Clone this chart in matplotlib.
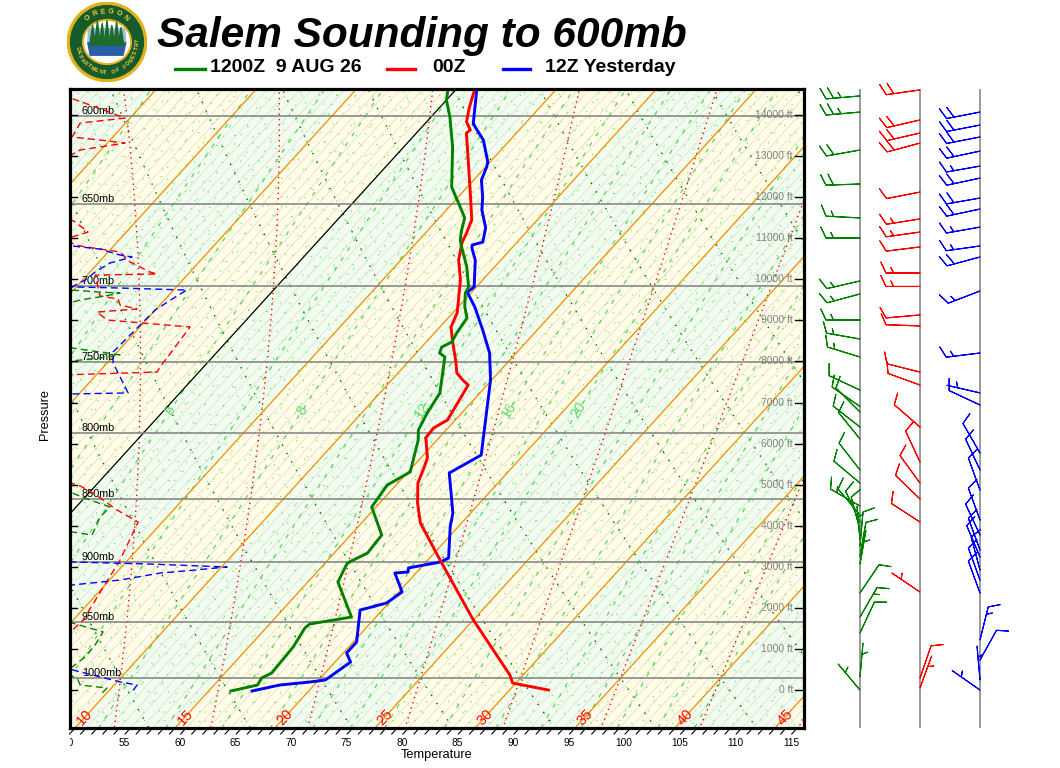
import numpy as np
import matplotlib
matplotlib.use("Agg")
import matplotlib.pyplot as plt
from matplotlib.patches import Circle, Polygon, Ellipse
from matplotlib.lines import Line2D
from matplotlib.collections import LineCollection
from matplotlib.ticker import NullLocator
from matplotlib.transforms import Bbox

plt.rcParams['font.family'] = ['Liberation Sans', 'DejaVu Sans']

# ---------------------------------------------------------------- data
TITLE = "Salem Sounding to 600mb"
SERIES_LABELS = ["1200Z  9 AUG 26", "00Z", "12Z Yesterday"]
SERIES_COLORS = ["#008000", "#FF0000", "#0000FF"]

# temperature profiles: pressure (hPa) and temperature (deg F)
z12_p = [1011.9, 1006.4, 1000.0, 995.5, 972.2, 955.6, 952.1, 946.1, 916.4, 900.7,
         892.6, 878.1, 856.0, 839.1, 829.2, 805.4, 798.2, 785.9, 771.7, 762.7,
         746.9, 744.2, 740.2, 736.8, 730.8, 720.9, 713.7, 704.7, 700.8, 688.2,
         675.8, 671.5, 665.4, 658.2, 651.7, 640.0, 634.2, 617.1, 600.5, 591.3, 585.9]
z12_t = [61.0, 62.9, 62.7, 63.2, 63.0, 62.5, 62.6, 65.8, 61.7, 61.0,
         62.0, 61.8, 58.6, 58.2, 59.2, 57.3, 56.5, 55.9, 55.4, 54.5,
         52.9, 52.1, 51.8, 52.3, 52.0, 51.7, 50.6, 49.5, 49.3, 47.5,
         45.4, 44.7, 44.0, 43.3, 42.0, 39.6, 38.8, 36.4, 33.7, 32.0, 31.3]

z00_p = [1011.0, 1004.6, 997.3, 948.6, 898.3, 868.6, 852.9, 837.6, 827.7, 818.7,
         805.4, 804.0, 796.7, 790.9, 766.2, 762.7, 757.9, 750.3, 735.5, 726.8,
         717.6, 696.4, 683.9, 673.4, 667.3, 659.4, 641.7, 609.3, 607.6, 603.2,
         595.6, 585.9]
z00_t = [89.5, 85.7, 84.8, 77.0, 69.1, 64.3, 62.4, 60.8, 60.2, 59.6,
         58.0, 57.8, 57.7, 58.3, 57.3, 56.4, 55.3, 54.3, 52.2, 51.0,
         50.4, 48.0, 46.2, 45.1, 44.7, 44.1, 41.5, 36.5, 36.6, 35.6,
         34.7, 33.7]

y12_p = [1011.9, 1006.4, 1003.6, 1001.8, 985.6, 977.5, 967.8, 940.1, 934.1, 924.8,
         909.0, 908.1, 904.8, 899.9, 896.6, 871.7, 860.7, 830.0, 816.5, 762.7,
         744.2, 728.8, 713.7, 704.1, 700.8, 683.9, 676.4, 674.6, 672.8, 664.2,
         653.5, 645.8, 635.9, 628.4, 625.6, 613.2, 606.0, 603.8, 585.9]
y12_t = [62.9, 64.9, 67.4, 68.6, 69.4, 68.3, 68.3, 66.0, 67.8, 68.3,
         66.1, 67.2, 66.9, 69.3, 69.7, 67.3, 66.4, 62.8, 64.2, 58.9,
         56.6, 54.1, 51.5, 49.6, 49.8, 47.7, 46.4, 46.2, 46.9, 46.0,
         44.2, 43.2, 41.7, 41.1, 40.8, 38.6, 36.8, 36.3, 33.9]

# winds: pressure (hPa), direction (deg from), speed (kt)
z12_wp = [589.1, 597.8, 618.8, 638.2, 658.2, 670.3, 697.0, 705.3, 722.2, 734.8,
          746.9, 769.7, 781.3, 785.2, 796.0, 804.7, 827.7, 837.6, 855.3, 862.3,
          867.8, 874.1, 882.1, 886.9, 895.0, 901.6, 925.6, 946.1, 959.9, 999.1, 1011.0]
z12_wd = [265, 265, 260, 268, 273, 270, 257, 255, 270, 280,
          287, 295, 305, 315, 308, 321, 322, 310, 300, 320,
          335, 345, 355, 5, 10, 10, 34, 30, 25, 5, 320]
z12_ws = [25, 25, 20, 20, 15, 15, 15, 15, 15, 15,
          15, 10, 10, 10, 10, 10, 10, 10, 15, 10,
          10, 10, 5, 10, 10, 5, 10, 15, 10, 5, 5]

z00_wp = [585.9, 602.1, 609.3, 614.9, 642.9, 658.8, 666.7, 675.8, 692.0, 700.5,
          718.9, 726.1, 757.2, 766.2, 796.0, 821.7, 837.6, 849.8, 867.8, 924.8,
          1000.0, 1009.1]
z00_wd = [262, 257, 257, 255, 259, 261, 262, 263, 270, 270,
          265, 272, 284, 290, 311, 335, 324, 314, 303, 304,
          19, 20]
z00_ws = [20, 20, 20, 20, 10, 15, 15, 10, 15, 15,
          10, 10, 10, 10, 10, 10, 10, 10, 10, 5,
          10, 5]

y12_wp = [597.8, 604.9, 611.5, 619.4, 627.9, 634.8, 646.4, 652.9, 663.7, 675.2,
          682.0, 703.4, 744.2, 771.7, 780.2, 815.0, 827.7, 842.9, 866.2, 878.1,
          890.2, 895.8, 906.5, 914.8, 925.6, 966.0, 983.8, 1001.8, 1011.0]
y12_wd = [259, 259, 259, 258, 260, 258, 260, 258, 260, 262,
          255, 249, 263, 283, 295, 330, 335, 340, 340, 335,
          340, 337, 345, 340, 340, 14, 29, 355, 305]
y12_ws = [20, 20, 20, 20, 15, 20, 20, 20, 15, 15,
          20, 15, 15, 5, 10, 10, 10, 10, 10, 10,
          10, 10, 10, 10, 10, 15, 10, 5, 5]

# dashed profiles near the left edge: pressure (hPa), skewed temperature coordinate
z00_dash_p = [588.6, 594.0, 601.1, 603.8, 611.5, 613.2, 614.9, 618.8, 624.4, 656.5,
              660.6, 666.7, 671.5, 675.2, 678.9, 685.1, 691.4, 692.6, 693.3, 706.6,
              708.5, 712.4, 715.0, 717.0, 722.2, 726.8, 753.7, 757.2, 759.2, 835.3,
              839.8, 845.2, 858.4, 867.8, 898.3, 948.6, 966.0]
z00_dash_x = [7.08, 8.48, 10.23, 7.98, 7.58, 8.98, 10.23, 7.98, 7.08, 7.08,
              7.73, 8.38, 7.08, 7.98, 9.98, 10.48, 11.48, 11.83, 8.73, 8.98,
              9.88, 9.98, 10.83, 8.83, 9.33, 13.48, 11.98, 11.83, 7.08, 7.08,
              7.98, 8.63, 9.83, 10.88, 9.98, 8.13, 7.08]
y12_dash_p = [674.6, 675.2, 677.1, 680.8, 682.0, 685.7, 691.4, 696.4, 700.8, 701.5,
              702.8, 705.3, 715.7, 728.8, 743.5, 751.0, 771.7, 772.4, 773.9, 898.3,
              899.9, 901.6, 904.0, 906.5, 909.0, 914.8, 918.9, 923.1, 988.3, 992.8,
              1003.6, 1006.4, 1012.8]
y12_dash_x = [7.08, 7.58, 8.98, 9.98, 10.58, 9.48, 8.73, 8.23, 7.58, 9.98,
              13.33, 12.98, 11.73, 10.73, 9.63, 9.63, 10.38, 7.58, 7.08, 7.08,
              7.58, 11.48, 15.33, 13.73, 11.98, 9.98, 7.58, 7.08, 7.08, 7.63,
              9.98, 10.83, 10.58]
z12_dash_p = [699.6, 702.8, 704.1, 704.7, 706.6, 709.2, 712.4, 738.8, 740.8, 745.5,
              747.6, 750.3, 835.3, 845.2, 850.6, 856.0, 863.8, 878.1, 875.7, 874.9,
              948.6, 951.2, 959.0, 970.4, 981.1, 990.0, 994.6, 998.2, 1001.8, 1006.4,
              1009.1, 1015.6]
z12_dash_x = [7.08, 7.58, 8.98, 9.98, 9.23, 7.98, 7.08, 7.08, 7.58, 9.98,
              8.98, 7.08, 7.08, 7.58, 8.48, 9.48, 8.98, 8.58, 7.58, 7.08,
              7.08, 7.58, 9.13, 8.73, 8.23, 7.58, 7.08, 7.58, 7.88, 7.98,
              9.33, 8.98]

PRESSURE_LEVELS = [600, 650, 700, 750, 800, 850, 900, 950, 1000]
HEIGHT_LEVELS_FT = list(range(0, 15000, 1000))
TEMP_TICKS_F = list(range(50, 120, 5))
ISOTHERM_LABELS_C = [10, 15, 20, 25, 30, 35, 40, 45]
MIXING_LABELS = [5, 8, 12, 16, 20]
MIXING_LINES = [2, 3, 4, 5, 6.5, 8, 10, 12, 14, 16, 18, 20, 24, 28, 32, 36, 40, 45, 50]

# ---------------------------------------------------------------- helpers
SKEW = 50.05
P_TOP, P_BOT = 585.4, 1046.5
X_LEFT, X_RIGHT = 7.475, 44.175
P_SFC, H_SCALE_FT = 1011.0, 26783.0


def skx(t_c, p):
    return np.asarray(t_c, dtype=float) + SKEW * np.log(1000.0 / np.asarray(p, dtype=float))


def f2c(f):
    return (np.asarray(f, dtype=float) - 32.0) * 5.0 / 9.0


def t_mix(w_gkg, p):
    w = w_gkg / 1000.0
    e = w * p / (0.622 + w)
    a = np.log(e / 6.112)
    return 243.5 * a / (17.67 - a)


def moist_rate(T, p):
    es = 6.112 * np.exp(17.67 * (T - 273.15) / (T - 29.65))
    rs = 0.622 * es / (p - es)
    return (287.04 * T + 2.501e6 * rs) / (p * (1005.7 + 2.501e6 ** 2 * rs * 0.622 / (287.04 * T * T)))


def moist_integrate(T0, p0, p1, n):
    ps = np.linspace(p0, p1, n + 1)
    h = (p1 - p0) / n
    T = np.array(T0, dtype=float)
    out = [T.copy()]
    for i in range(n):
        p = ps[i]
        k1 = moist_rate(T, p)
        k2 = moist_rate(T + h * k1 / 2, p + h / 2)
        k3 = moist_rate(T + h * k2 / 2, p + h / 2)
        k4 = moist_rate(T + h * k3, p + h)
        T = T + h * (k1 + 2 * k2 + 2 * k3 + k4) / 6
        out.append(T.copy())
    return ps, np.array(out)


W, H = 1060, 768
fig = plt.figure(figsize=(W / 100, H / 100), dpi=100)
ax = fig.add_axes([70 / W, 40 / H, 734 / W, 639 / H])
ax.set_yscale('log')
ax.set_ylim(P_BOT, P_TOP)
ax.set_xlim(X_LEFT, X_RIGHT)
for a in (ax.xaxis, ax.yaxis):
    a.set_major_locator(NullLocator())
    a.set_minor_locator(NullLocator())
GREEN_BG, YELLOW_BG = '#EEFFEF', '#FFFFE8'
ax.set_facecolor(GREEN_BG)
for s in ax.spines.values():
    s.set_linewidth(2.3)
    s.set_color('black')
    s.set_zorder(30)

pend = np.array([P_BOT * 1.05, P_TOP * 0.95])
pgrid = np.geomspace(P_BOT * 1.05, P_TOP * 0.95, 90)

# background bands between 5 C isotherms
for t0 in range(-40, 60, 5):
    if (t0 // 5) % 2 == 1:
        xs = [skx(t0, pend[0]), skx(t0, pend[1]), skx(t0 + 5, pend[1]), skx(t0 + 5, pend[0])]
        ax.fill(xs, [pend[0], pend[1], pend[1], pend[0]], color=YELLOW_BG, lw=0, zorder=0)

# pink 1 F isotherms
segs = [np.column_stack([skx(f2c(tf), pend), pend]) for tf in range(-40, 135)]
ax.add_collection(LineCollection(segs, colors='#FAD2D2', linewidths=0.6, zorder=1))

# fine dry adiabats (bright green dotted)
theta_fine = np.arange(-40, 131, 1)
segs = []
for th in theta_fine:
    t = (th + 273.15) * (pgrid / 1000.0) ** 0.2857 - 273.15
    segs.append(np.column_stack([skx(t, pgrid), pgrid]))
ax.add_collection(LineCollection(segs, colors='#44F044', linewidths=0.8,
                                 linestyles=[(0, (1, 9))], zorder=2))

# fine mixing-ratio family (bright green dotted)
w_fine = 0.4 * 1.07 ** np.arange(0, 80)
segs = []
for w in w_fine:
    t = t_mix(w, pgrid)
    segs.append(np.column_stack([skx(t, pgrid), pgrid]))
ax.add_collection(LineCollection(segs, colors='#44F044', linewidths=0.8,
                                 linestyles=[(0, (1, 9))], zorder=2))

# major dry adiabats (dark green dotted)
segs = []
for th in range(-40, 135, 5):
    t = (th + 273.15) * (pgrid / 1000.0) ** 0.2857 - 273.15
    segs.append(np.column_stack([skx(t, pgrid), pgrid]))
ax.add_collection(LineCollection(segs, colors='#006400', linewidths=1.0,
                                 linestyles=[(0, (1, 6))], zorder=3))

# mixing ratio lines (green dashed)
segs = []
for w in MIXING_LINES:
    t = t_mix(w, pgrid)
    segs.append(np.column_stack([skx(t, pgrid), pgrid]))
ax.add_collection(LineCollection(segs, colors='#55D655', linewidths=0.9,
                                 linestyles=[(0, (3.5, 6))], zorder=3))

# moist adiabats (red dotted)
thw = np.arange(-20, 56, 5).astype(float) + 273.15
pu, tu = moist_integrate(thw, 1000.0, P_TOP * 0.95, 220)
pdn, tdn = moist_integrate(thw, 1000.0, P_BOT * 1.05, 40)
pm = np.concatenate([pdn[::-1], pu[1:]])
tm = np.concatenate([tdn[::-1], tu[1:]]) - 273.15
segs = [np.column_stack([skx(tm[:, i], pm), pm]) for i in range(len(thw))]
ax.add_collection(LineCollection(segs, colors='#FF0000', linewidths=1.0,
                                 linestyles=[(0, (1, 2.8))], zorder=4))

# 5 C isotherms (orange) and 0 C (black)
segs = [np.column_stack([skx(t, pend), pend]) for t in range(-40, 60, 5) if t != 0]
ax.add_collection(LineCollection(segs, colors='#FF8C00', linewidths=0.9, zorder=5))
ax.plot(skx(0, pend), pend, color='black', lw=0.9, zorder=5)

# pressure lines and labels
for p in PRESSURE_LEVELS:
    ax.axhline(p, color='#808080', lw=1.1, zorder=6)
    ax.text(12 / 734, p, f"{p}mb", transform=ax.get_yaxis_transform(), fontsize=7.8,
            ha='left', va='bottom', color='black', zorder=7)

# height labels / ticks
for h in HEIGHT_LEVELS_FT:
    p = P_SFC * np.exp(-h / H_SCALE_FT)
    ax.text(723 / 734, p, f"{h} ft", transform=ax.get_yaxis_transform(), fontsize=7.5,
            ha='right', va='center', color='#808080', zorder=7)
    ax.plot([725 / 734, 1.0], [p, p], transform=ax.get_yaxis_transform(), color='black',
            lw=1.0, zorder=7)
    ax.plot([0.0, 7 / 734], [p, p], transform=ax.get_yaxis_transform(), color='black',
            lw=1.0, zorder=7)

# isotherm labels
p_lab = P_BOT * (P_BOT / P_TOP) ** (-11 / 639)
for t in ISOTHERM_LABELS_C:
    ax.text(skx(t, p_lab), p_lab, str(t), color='#FF0000', fontsize=10.5, rotation=47,
            ha='center', va='center', rotation_mode='anchor', zorder=7)

# mixing ratio labels
p_mr = 784.0
for w in MIXING_LABELS:
    ax.text(skx(t_mix(w, p_mr), p_mr), p_mr, str(w), color='#66DD66', fontsize=10.5,
            rotation=57, ha='center', va='center', rotation_mode='anchor', zorder=7)

# dashed profiles
for dp, dx, col in [(z00_dash_p, z00_dash_x, SERIES_COLORS[1]),
                    (y12_dash_p, y12_dash_x, SERIES_COLORS[2]),
                    (z12_dash_p, z12_dash_x, SERIES_COLORS[0])]:
    ax.plot(dx, dp, color=col, lw=1.0, linestyle=(0, (5, 3)), zorder=8)

# soundings
for pp, tt, col in [(y12_p, y12_t, SERIES_COLORS[2]),
                    (z00_p, z00_t, SERIES_COLORS[1]),
                    (z12_p, z12_t, SERIES_COLORS[0])]:
    ax.plot(skx(f2c(tt), pp), pp, color=col, lw=2.1, zorder=10, solid_joinstyle='round')

# bottom temperature ticks (deg F), skewed
p_tick = P_BOT * (P_BOT / P_TOP) ** (6 / 639)
p_xlab = P_BOT * (P_BOT / P_TOP) ** (7 / 639)
p_txt = P_BOT * (P_BOT / P_TOP) ** (15 / 639)
for tf in range(50, 116):
    tc = f2c(tf)
    ax.plot([skx(tc, P_BOT), skx(tc, p_tick)], [P_BOT, p_tick], color='black', lw=0.8,
            clip_on=False, zorder=30)
clip_box = Bbox.from_extents(70, 0, 1060, 768)
for tf in TEMP_TICKS_F:
    tc = f2c(tf)
    tx = ax.text(skx(tc, p_xlab), p_txt, str(tf), fontsize=7.3, ha='center', va='center')
    tx.set_clip_box(clip_box)
    tx.set_clip_on(True)

fig.text(437 / W, 1 - 755 / H, "Temperature", fontsize=9.2, ha='center', va='center')
fig.text(45 / W, 1 - 415 / H, "Pressure", fontsize=9.2, ha='center', va='center', rotation=90)

# ---------------------------------------------------------------- wind barbs
bax = fig.add_axes([806 / W, 40 / H, 240 / W, 639 / H])
bax.set_yscale('log')
bax.set_ylim(P_BOT, P_TOP)
bax.set_xlim(0, 240)
bax.axis('off')
staff_x = [54, 114, 174]
winds = [(z12_wp, z12_wd, z12_ws), (z00_wp, z00_wd, z00_ws), (y12_wp, y12_wd, y12_ws)]
for sx, (wp, wd, ws), col in zip(staff_x, winds, SERIES_COLORS):
    bax.plot([sx, sx], [P_BOT, P_TOP], color='#808080', lw=1.1)
    d = np.deg2rad(np.array(wd, dtype=float))
    s = np.array(ws, dtype=float)
    u, v = -s * np.sin(d), -s * np.cos(d)
    bax.barbs(np.full(len(wp), sx), np.array(wp), u, v, length=7, color=col, linewidth=0.8,
              sizes=dict(spacing=0.22, height=0.32, width=0.3), zorder=3, clip_on=False)

# ---------------------------------------------------------------- title & legend
fig.text(157 / W, 1 - 47 / H, TITLE, fontsize=30.5, fontweight='bold', fontstyle='italic',
         va='baseline', ha='left')
for x0, x1, xt, lab, col in zip([175, 387, 503], [205, 415, 530], [210, 432, 545],
                                SERIES_LABELS, SERIES_COLORS):
    fig.add_artist(Line2D([x0 / W, x1 / W], [1 - 69 / H] * 2, color=col, lw=2.4,
                          transform=fig.transFigure))
    fig.text(xt / W, 1 - 68 / H, lab, fontsize=14, fontweight='bold', va='center', ha='left')

# ---------------------------------------------------------------- logo
lax = fig.add_axes([67 / W, (768 - 82) / H, 80 / W, 80 / H])
lax.set_xlim(-1, 1)
lax.set_ylim(-1, 1)
lax.axis('off')
lax.add_patch(Circle((0, 0), 0.99, color='#E3B21B'))
lax.add_patch(Circle((0, 0), 0.91, color='#175B2B'))
lax.add_patch(Ellipse((0, 0.0), 1.22, 1.12, color='#E3B21B'))
lax.add_patch(Ellipse((0, 0.0), 1.12, 1.02, color='white'))
lax.add_patch(Polygon([(-0.46, 0.33), (0.44, 0.33), (0.47, -0.02), (-0.48, -0.02)],
                      color='#9CC0DA'))
lax.add_patch(Polygon([(-0.48, -0.02), (0.47, -0.02), (0.40, -0.33), (-0.42, -0.33)],
                      color='#2A5EA8'))
for tx_, th in [(-0.36, 0.5), (-0.24, 0.6), (-0.12, 0.55), (0.0, 0.62), (0.12, 0.5),
                (0.24, 0.58), (0.35, 0.45)]:
    lax.add_patch(Polygon([(tx_ - 0.07, -0.08), (tx_ + 0.07, -0.08), (tx_, -0.08 + th)],
                          color='#1E6B2E'))
for i, ch in enumerate("OREGON"):
    ang = np.deg2rad(128 - i * 15.2)
    lax.text(0.76 * np.cos(ang), 0.76 * np.sin(ang), ch, fontsize=5, fontweight='bold',
             color='#F4D03F', rotation=np.rad2deg(ang) - 90, ha='center', va='center')
txt = "DEPARTMENT OF FORESTRY"
for i, ch in enumerate(txt):
    ang = np.deg2rad(192 + i * (172 / (len(txt) - 1)))
    lax.text(0.76 * np.cos(ang), 0.76 * np.sin(ang), ch, fontsize=3.8, fontweight='bold',
             color='#F4D03F', rotation=np.rad2deg(ang) + 90, ha='center', va='center')

fig.savefig("out.png", dpi=100)
